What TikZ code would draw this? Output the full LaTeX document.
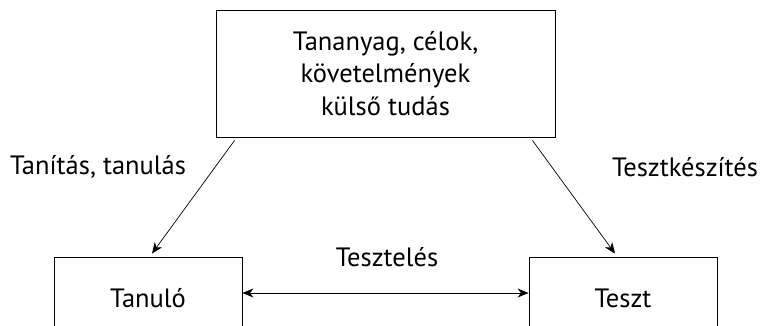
\documentclass[tikz,border=0pt]{standalone}
\usepackage{fontspec}
\setmainfont{PT Sans}
\usetikzlibrary{arrows.meta,calc}
\tikzset{
  boxnode/.style={draw,line width=0.9pt,inner sep=0pt,align=center},
  txt/.style={inner sep=0pt,align=center,font=\fontsize{26.5}{32.5}\selectfont},
  arr/.style={line width=0.7pt,-{Stealth[length=11pt,width=9pt,inset=3.5pt]}},
  darr/.style={line width=0.7pt,{Stealth[length=11pt,width=9pt,inset=3.5pt]}-{Stealth[length=11pt,width=9pt,inset=3.5pt]}}
}
\begin{document}
\begin{tikzpicture}[x=1pt,y=-1pt]
\useasboundingbox (0,0) rectangle (760,326);
\clip (0,0) rectangle (760,326);
\fill[white] (0,0) rectangle (760,326);
\node[boxnode,txt,minimum width=339pt,minimum height=127pt] (top) at (385.5,73.5)
  {Tananyag, célok,\\követelmények\\külső tudás};
\node[boxnode,txt,minimum width=188pt,minimum height=82pt] (left) at (148,298) {Tanuló};
\node[boxnode,txt,minimum width=188pt,minimum height=82pt] (right) at (623,298) {Teszt};
\draw[arr] ($(top.south west)+(19,3)$) -- ($(left.north)+(4,-3)$);
\draw[arr] ($(top.south east)+(-23,3)$) -- ($(right.north)+(-8,-3)$);
\draw[darr] ($(left.east)+(0,-5)$) -- ($(right.west)+(0,-5)$);
\node[txt] (l1) at (98,167) {Tanítás, tanulás};
\node[txt] (l2) at (685,167) {Tesztkészítés};
\node[txt] (l3) at (387,257) {Tesztelés};
\end{tikzpicture}
\end{document}
